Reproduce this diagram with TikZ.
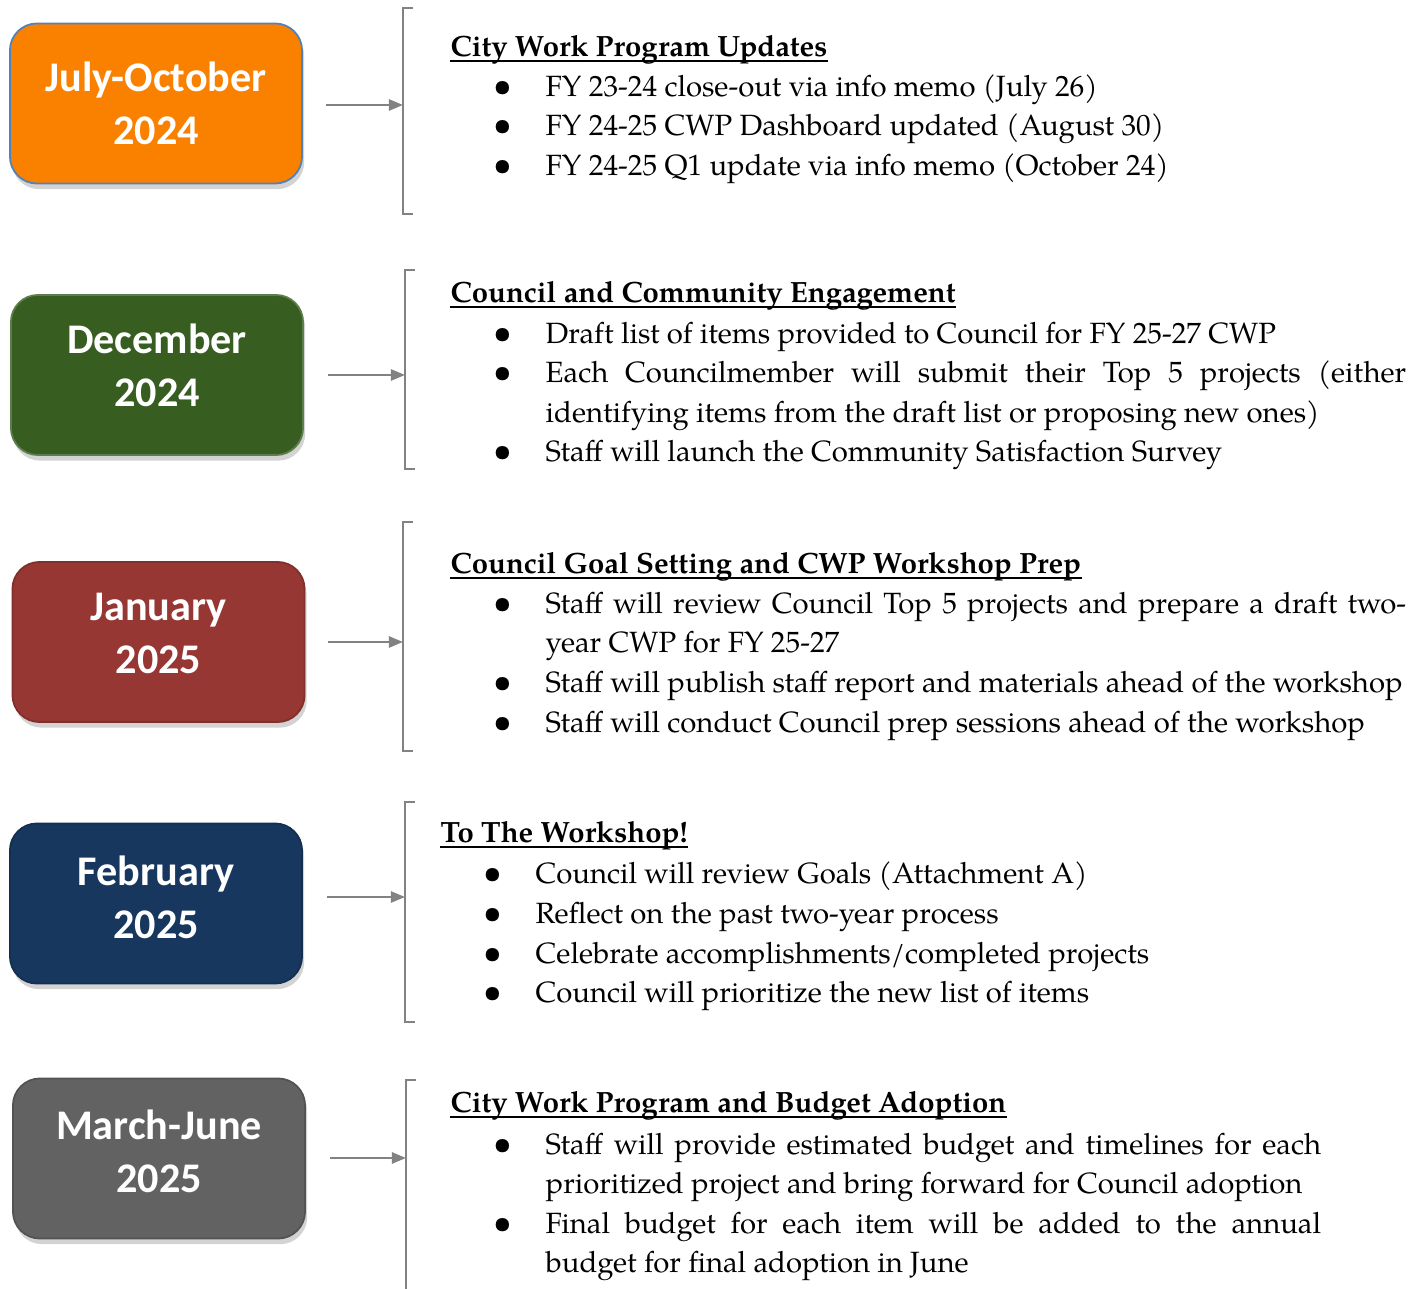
\documentclass[tikz,border=0pt]{standalone}
\usepackage{fontspec}
\setmainfont{texgyrepagella}[Extension=.otf, UprightFont=*-regular, BoldFont=*-bold, ItalicFont=*-italic, BoldItalicFont=*-bolditalic]
\newfontfamily\boxfont{Carlito}
\usepackage{tikz}
\usetikzlibrary{arrows.meta}
\usetikzlibrary{shadows}
\definecolor{julorange}{RGB}{250,128,0}
\definecolor{decgreen}{RGB}{55,94,32}
\definecolor{janred}{RGB}{150,55,52}
\definecolor{febnavy}{RGB}{23,55,94}
\definecolor{margray}{RGB}{98,98,98}
\definecolor{edgeblue}{RGB}{79,129,189}
\definecolor{linegray}{RGB}{130,130,130}
\tikzset{>={Triangle[length=0.14cm,width=0.11cm]}}
\tikzset{
  period/.style={rounded corners=0.27cm, minimum width=2.92cm, minimum height=1.6cm,
    align=center, text=white, line width=0.5pt,
    font=\boxfont\bfseries\fontsize{12}{15}\selectfont,
    drop shadow={opacity=0.35, shadow xshift=0.6pt, shadow yshift=-1.6pt}},
  flow/.style={->, line width=0.7pt, draw=linegray},
  bracket/.style={line width=0.6pt, draw=linegray},
  heading/.style={anchor=base west, inner sep=0pt, font=\bfseries\fontsize{8.33}{10}\selectfont},
  entry/.style={anchor=base west, inner sep=0pt, font=\fontsize{8.33}{10}\selectfont},
  bul/.style={anchor=base, inner sep=0pt, font=\fontsize{9.5}{10}\selectfont},
  uline/.style={line width=0.65pt}
}
\newcommand{\jline}[2]{\makebox[#1][s]{#2}}

\begin{document}
\begin{tikzpicture}[x=0.01cm, y=-0.01cm]
        \useasboundingbox (0,0) rectangle (1424,1289);

        \node[period, fill=julorange, draw=edgeblue] (jul) at (156,103.5) {July-October\\2024};
        \node[period, fill=decgreen, draw=decgreen!80!white, text depth=0.2cm] (dec) at (157,375) {December\\2024};
        \node[period, fill=janred, draw=janred!85!black, text depth=0.17cm] (jan) at (158.5,642) {January\\2025};
        \node[period, fill=febnavy, draw=febnavy!85!black, text depth=0.13cm] (feb) at (156,903.5) {February\\2025};
        \node[period, fill=margray, draw=margray!85!black, text depth=0.14cm] (mar) at (159,1158.5) {March-June\\2025};

        \coordinate (t1) at (326,105);
        \coordinate (t2) at (328,375);
        \coordinate (t3) at (328,642);
        \coordinate (t4) at (327,897);
        \coordinate (t5) at (330,1158);
        \coordinate (b1) at (403,105);
        \coordinate (b2) at (405,375);
        \coordinate (b3) at (403,642);
        \coordinate (b4) at (405,897);
        \coordinate (b5) at (406,1158);

        \draw[bracket] (413,8) -- (403,8) -- (403,214) -- (413,214);
        \draw[bracket] (415,270) -- (405,270) -- (405,469) -- (415,469);
        \draw[bracket] (413,522) -- (403,522) -- (403,751) -- (413,751);
        \draw[bracket] (415,802) -- (405,802) -- (405,1022) -- (415,1022);
        \draw[bracket] (416,1080) -- (406,1080) -- (406,1289);

        \draw[flow] (t1) -- (b1);
        \draw[flow] (t2) -- (b2);
        \draw[flow] (t3) -- (b3);
        \draw[flow] (t4) -- (b4);
        \draw[flow] (t5) -- (b5);

        \node[heading] (h1) at (450,57) {City Work Program Updates};
        \node[bul] (d11) at (503,97) {•};
        \node[bul] (d12) at (503,136) {•};
        \node[bul] (d13) at (503,176) {•};
        \node[entry] (e11) at (545,97) {FY 23-24 close-out via info memo (July 26)};
        \node[entry] (e12) at (545,136) {FY 24-25 CWP Dashboard updated (August 30)};
        \node[entry] (e13) at (545,176) {FY 24-25 Q1 update via info memo (October 24)};

        \node[heading] (h2) at (450,303) {Council and Community Engagement};
        \node[bul] (d21) at (503,344) {•};
        \node[bul] (d22) at (503,383) {•};
        \node[bul] (d23) at (503,462) {•};
        \node[entry] (e21) at (545,344) {Draft list of items provided to Council for FY 25-27 CWP};
        \node[entry] (e22) at (545,383) {\jline{8.6cm}{Each Councilmember will submit their Top 5 projects (either}};
        \node[entry] (e23) at (545,423) {identifying items from the draft list or proposing new ones)};
        \node[entry] (e24) at (545,462) {Staff will launch the Community Satisfaction Survey};

        \node[heading] (h3) at (450,574) {Council Goal Setting and CWP Workshop Prep};
        \node[bul] (d31) at (503,614) {•};
        \node[bul] (d32) at (503,693) {•};
        \node[bul] (d33) at (503,733) {•};
        \node[entry] (e31) at (545,614) {\jline{8.6cm}{Staff will review Council Top 5 projects and prepare a draft two-}};
        \node[entry] (e32) at (545,653) {year CWP for FY 25-27};
        \node[entry] (e33) at (545,693) {Staff will publish staff report and materials ahead of the workshop};
        \node[entry] (e34) at (545,733) {Staff will conduct Council prep sessions ahead of the workshop};

        \node[heading] (h4) at (440,843) {To The Workshop!\ };
        \node[bul] (d41) at (493,884) {•};
        \node[bul] (d42) at (493,924) {•};
        \node[bul] (d43) at (493,964) {•};
        \node[bul] (d44) at (493,1003) {•};
        \node[entry] (e41) at (535,884) {Council will review Goals (Attachment A)};
        \node[entry] (e42) at (535,924) {Reflect on the past two-year process};
        \node[entry] (e43) at (535,964) {Celebrate accomplishments/completed projects};
        \node[entry] (e44) at (535,1003) {Council will prioritize the new list of items};

        \node[heading] (h5) at (450,1113) {City Work Program and Budget Adoption};
        \node[bul] (d51) at (503,1154) {•};
        \node[bul] (d52) at (503,1233) {•};
        \node[entry] (e51) at (545,1154) {\jline{7.75cm}{Staff will provide estimated budget and timelines for each}};
        \node[entry] (e52) at (545,1193) {prioritized project and bring forward for Council adoption};
        \node[entry] (e53) at (545,1233) {\jline{7.75cm}{Final budget for each item will be added to the annual}};
        \node[entry] (e54) at (545,1272) {budget for final adoption in June};

        \draw[uline] ([yshift=-1.2pt]h1.base west) -- ([yshift=-1.2pt]h1.base east);
        \draw[uline] ([yshift=-1.2pt]h2.base west) -- ([yshift=-1.2pt]h2.base east);
        \draw[uline] ([yshift=-1.2pt]h3.base west) -- ([yshift=-1.2pt]h3.base east);
        \draw[uline] ([yshift=-1.2pt]h4.base west) -- ([yshift=-1.2pt]h4.base east);
        \draw[uline] ([yshift=-1.2pt]h5.base west) -- ([yshift=-1.2pt]h5.base east);
    \end{tikzpicture}
\end{document}
